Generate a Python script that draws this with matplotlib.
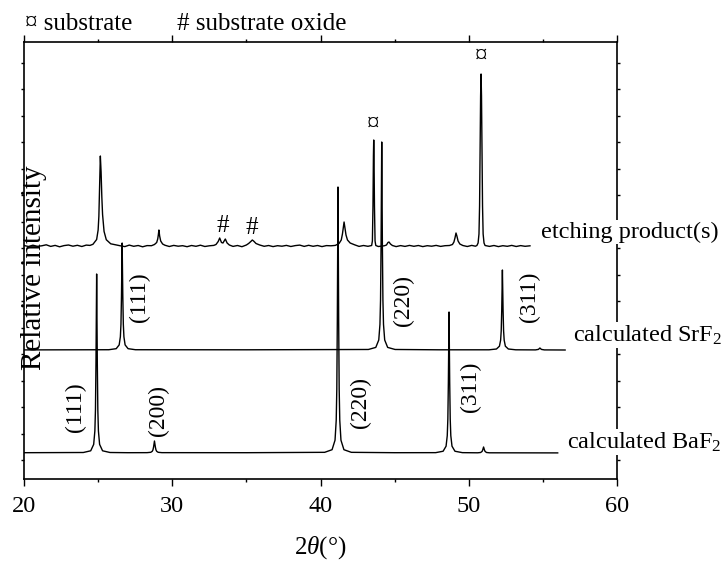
import matplotlib
matplotlib.use("Agg")
import matplotlib.pyplot as plt
from matplotlib.ticker import MultipleLocator
import numpy as np

plt.rcParams['font.family'] = ['Liberation Serif', 'DejaVu Serif']
plt.rcParams['mathtext.fontset'] = 'custom'
plt.rcParams['mathtext.rm'] = 'Liberation Serif'
plt.rcParams['mathtext.it'] = 'Liberation Serif:italic'

# ---------------- data (2theta in degrees, intensity in arbitrary units) -------------
baf2_x = [20.0, 24.0, 24.5, 24.7, 24.78, 24.82, 24.855, 24.9, 24.945, 24.98, 25.02, 25.1, 25.3, 25.8,
          27.0, 28.3, 28.55, 28.65, 28.7, 28.74, 28.8, 28.86, 28.9, 28.95, 29.05, 29.3,
          35.0, 40.28, 40.78, 40.98, 41.06, 41.10, 41.135, 41.18, 41.225, 41.26, 41.30, 41.38, 41.58, 42.08,
          45.0, 47.77, 48.27, 48.47, 48.55, 48.59, 48.625, 48.67, 48.715, 48.75, 48.79, 48.87, 49.07, 49.57,
          50.6, 50.8, 50.9, 50.94, 51.0, 51.06, 51.1, 51.2, 51.4, 56.0]
baf2_y = [0.3, 0.5, 2.2, 8.6, 22, 43, 90, 179, 90, 43, 22, 8.6, 2.2, 0.5,
          0.3, 0.35, 0.7, 1.7, 3.2, 6, 12, 6, 3.2, 1.7, 0.7, 0.35,
          0.3, 0.67, 3.3, 12.8, 32.7, 64, 133, 266, 133, 64, 32.7, 12.8, 3.3, 0.67,
          0.3, 0.35, 1.76, 6.8, 17.3, 34, 70.5, 141, 70.5, 34, 17.3, 6.8, 1.76, 0.35,
          0.2, 0.5, 1.6, 3, 6, 3, 1.6, 0.5, 0.2, 0.1]

srf2_x = [20.0, 25.72, 26.22, 26.42, 26.50, 26.54, 26.575, 26.62, 26.665, 26.70, 26.74, 26.82, 27.02, 27.52,
          35.0, 43.23, 43.73, 43.93, 44.01, 44.05, 44.085, 44.13, 44.175, 44.21, 44.25, 44.33, 44.53, 45.03,
          48.0, 51.37, 51.87, 52.07, 52.15, 52.19, 52.225, 52.27, 52.315, 52.35, 52.39, 52.47, 52.67, 53.17,
          54.5, 54.7, 54.8, 54.9, 55.1, 56.5]
srf2_y = [0.1, 0.27, 1.33, 5.1, 13.2, 25.7, 53.5, 107, 53.5, 25.7, 13.2, 5.1, 1.33, 0.27,
          0.2, 0.52, 2.6, 10, 25.6, 50, 104, 208, 104, 50, 25.6, 10, 2.6, 0.52,
          0.2, 0.2, 1.0, 3.8, 9.8, 19.2, 40, 80, 40, 19.2, 9.8, 3.8, 1.0, 0.2,
          0.1, 0.6, 2, 0.6, 0.1, 0.0]

etch_x = [20.0, 20.3, 20.6, 20.9, 21.2, 21.5, 21.8, 22.1, 22.4, 22.7, 23.0, 23.3, 23.6, 23.9, 24.2, 24.45,
          24.65, 24.9, 25.0, 25.05, 25.1, 25.15, 25.2, 25.25, 25.3, 25.4, 25.55, 25.85, 26.25,
          26.5, 26.8, 27.1, 27.4, 27.7, 28.0, 28.3, 28.6,
          28.8, 28.95, 29.02, 29.06, 29.1, 29.15, 29.22, 29.35, 29.5,
          29.8, 30.1, 30.4, 30.7, 31.0, 31.3, 31.6, 31.9, 32.2, 32.5, 32.8,
          32.95, 33.1, 33.2, 33.32, 33.42, 33.5, 33.58, 33.7, 33.85,
          34.1, 34.4, 34.7, 35.0,
          35.15, 35.3, 35.4, 35.5, 35.65, 35.9,
          36.2, 36.5, 36.8, 37.1, 37.4, 37.7, 38.0, 38.3, 38.6, 38.9, 39.2, 39.5, 39.8, 40.1, 40.4, 40.7, 41.0,
          41.25, 41.4, 41.48, 41.54, 41.59, 41.65, 41.72, 41.82, 42.0, 42.3,
          42.6, 42.9, 43.2, 43.4,
          43.45, 43.5, 43.54, 43.57, 43.59, 43.61, 43.64, 43.68, 43.73,
          43.9, 44.3,
          44.45, 44.55, 44.62, 44.72, 44.85,
          45.1, 45.4, 45.7, 46.0, 46.3, 46.6, 46.9, 47.2, 47.5, 47.8, 48.1, 48.4, 48.7,
          48.9, 49.0, 49.07, 49.14, 49.2, 49.28, 49.4, 49.6,
          49.9, 50.2, 50.45,
          50.55, 50.63, 50.69, 50.73, 50.77, 50.8, 50.83, 50.86, 50.89, 50.93, 50.97, 51.03, 51.1,
          51.4, 51.7, 52.0, 52.3, 52.6, 52.9, 53.2, 53.5, 53.8, 54.13]
etch_y = [0.5, -0.5, 0.8, -0.3, 0.2, 1.2, -0.4, 0.6, -0.8, 0.4, 1.0, -0.2, 0.7, -0.5, 0.9, 0.6,
          1.7, 6.5, 16, 29.6, 59.6, 90, 74, 49, 31.5, 14.6, 6.3, 2.2, 0.9,
          0.2, -0.6, 0.9, -0.3, 0.5, -0.8, 0.4, 0.3,
          1.5, 3.5, 7, 11, 16, 10, 5, 2, 0.8,
          -0.5, 0.6, -0.2, 0.3, -0.7, 0.5, -0.3, 0.8, -0.5, 0.2, 0.6,
          1.5, 4.5, 8, 3.5, 3.0, 5, 7, 3, 1,
          -0.4, 0.5, -0.7, 1.0,
          2.5, 4.5, 6, 4.8, 2.5, 1.0,
          -0.3, 0.5, -0.6, 0.3, -0.2, 0.6, -0.5, 0.4, 0.9, -0.4, 0.7, -0.3, 0.5, -0.6, 0.4, 0.2, 0.6,
          2.5, 6, 12, 19, 24, 18, 11, 6, 3, 1.2,
          -0.4, 0.5, -0.3, 0.4,
          0.5, 5, 40, 90, 106, 90, 40, 5, 0.5,
          -0.5, 0.2,
          1, 3.5, 4, 2, 0.5,
          -0.6, 0.4, -0.4, 0.6, -0.3, 0.5, -0.6, 0.3, -0.2, 0.6, -0.4, 0.3, 0.5,
          1.5, 4, 8, 13, 10, 5, 2, 0.5,
          -0.5, 0.6, -0.2,
          0.5, 3, 12, 40, 100, 150, 172, 150, 100, 40, 12, 3, 0.5,
          -0.4, 0.5, -0.6, 0.3, -0.3, 0.6, -0.5, 0.4, -0.3, 0.2]

trace_names = ["calculated BaF$_2$", "calculated SrF$_2$", "etching product(s)"]

# --------------- layout constants ---------------
W, H = 728, 563
fig = plt.figure(figsize=(W / 100, H / 100), dpi=100)
ax = fig.add_axes([24 / W, 1 - 479 / H, (617 - 24) / W, (479 - 42) / H])

offsets = [26, 129, 233]
series = [(baf2_x, baf2_y), (srf2_x, srf2_y), (etch_x, etch_y)]
for (xs, ys), off in zip(series, offsets):
    ax.plot(xs, np.asarray(ys) + off, color='black', lw=1.0)

ax.set_xlim(20, 60)
ax.set_ylim(0, 437)

FS = 17.5
# peak labels (rotated)
peak_labels = [("(111)", 23.5, 72), ("(200)", 29.07, 69), ("(220)", 42.7, 76), ("(311)", 50.1, 92),
               ("(111)", 27.8, 182), ("(220)", 45.6, 178), ("(311)", 54.1, 182)]
for txt, xx, yy in peak_labels:
    ax.text(xx, yy, txt, rotation=90, ha='center', va='center', fontsize=17)

# phase markers
markers = [("\u00a4", 43.55, 354), ("\u00a4", 50.83, 422), ("#", 33.4, 253), ("#", 35.4, 251)]
for txt, xx, yy in markers:
    ax.text(xx, yy, txt, ha='center', va='center', fontsize=18)

# trace names at the right
name_pos = [(56.65, 37), (57.05, 144), (54.85, 247)]
for name, (xx, yy) in zip(trace_names, name_pos):
    ax.text(xx, yy, name, ha='left', va='center', fontsize=17.5, clip_on=False, zorder=5,
            bbox=dict(facecolor='white', edgecolor='none', pad=1.0))

# top legend texts
fig.text(25 / W, 1 - 24 / H, "\u00a4 substrate", ha='left', va='center', fontsize=18)
fig.text(177 / W, 1 - 24 / H, "# substrate oxide", ha='left', va='center', fontsize=18)

# y label overlapping the axis
fig.text(34 / W, 1 - 268 / H, "Relative intensity", rotation=90, ha='center', va='center', fontsize=21)

# x axis label
fig.text(320 / W, 1 - 548 / H, r"2$\theta$(°)", ha='center', va='center', fontsize=18)

# ticks
ax.xaxis.set_major_locator(MultipleLocator(10))
ax.xaxis.set_minor_locator(MultipleLocator(5))
ax.set_yticks(np.arange(19, 437, 26.5))
ax.set_yticklabels([])
ax.tick_params(axis='x', which='major', direction='out', length=5, width=1, labelsize=FS, pad=7,
               top=True)
ax.tick_params(axis='x', which='minor', direction='out', length=2.5, width=1, top=True)
ax.tick_params(axis='y', which='major', direction='out', length=2.2, width=1, right=True)
for sp in ax.spines.values():
    sp.set_linewidth(1.2)

fig.savefig("out.png", dpi=100)
